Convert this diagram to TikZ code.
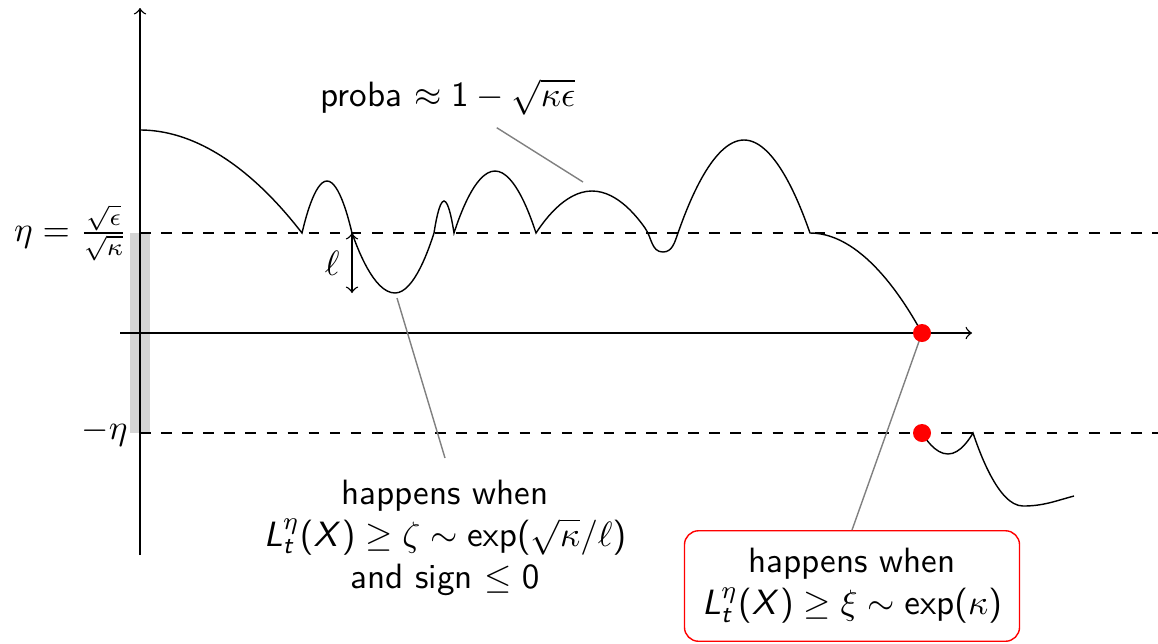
\documentclass[tikz,border=0pt]{standalone}
\renewcommand{\familydefault}{\sfdefault}
% maths in sans, as on the slides
\SetSymbolFont{operators}{normal}{OT1}{cmss}{m}{n}
\DeclareSymbolFont{sfit}{OT1}{cmss}{m}{sl}
\DeclareMathSymbol{L}{\mathalpha}{sfit}{`L}
\DeclareMathSymbol{X}{\mathalpha}{sfit}{`X}
\DeclareMathSymbol{t}{\mathalpha}{sfit}{`t}
\tikzset{
  pointer/.style={gray},
  hitdot/.style={fill=red},
  band/.style={fill=black!17}
}
\begin{document}
\begin{tikzpicture}
  \useasboundingbox (-1.40,-3.10) rectangle (10.18,3.33);
  % la bande autour de 0, puis les axes
  \fill[band] (-0.1,-1) rectangle (0.1,1);
  \draw[->] (-0.2,0) -- (8.32,0);
  \draw[->] (0,-2.22) -- (0,3.25);
  \draw[dashed] (0,1) -- (10.18,1);
  \draw[dashed] (0,-1) -- (10.18,-1);
  \node[left] (eta) at (0,1) {$\eta=\frac{\sqrt{\epsilon}}{\sqrt{\kappa}}$};
  \node[left] (meta) at (0,-1) {$-\eta$};
  % la trajectoire, au-dessus de eta
  \draw (0,2.03) parabola (1.62,1)
    parabola bend (1.87,1.52) (2.12,1) coordinate (cross)
    parabola bend (2.55,0.40) (2.94,1)
    parabola bend (3.04,1.32) (3.14,1)
    parabola bend (3.55,1.62) (3.96,1)
    parabola bend (4.52,1.42) (5.05,1.05)
    to[out=-54,in=180] (5.23,0.81)
    to[out=0,in=-110] (5.38,1)
    parabola bend (6.04,1.93) (6.70,1)
    parabola bend (6.70,1) (7.82,0) coordinate (hit);
  \coordinate (bottom) at (2.55,0.40);
  % et apres le saut, sous -eta
  \draw (7.82,-1) coordinate (hit2)
    parabola bend (8.08,-1.21) (8.33,-1)
    parabola[bend at end] (8.83,-1.73)
    to[out=0,in=-165] (9.34,-1.63);
  \draw[<->] (cross) -- node[left] (ell) {$\ell$} (cross |- bottom);
  % les commentaires
  \node (proba) at (3.08,2.36) {proba $\approx 1-\sqrt{\kappa\epsilon}$};
  \coordinate (hump) at (4.43,1.51);
  \draw[pointer] (proba) -- (hump);
  \node[align=center, anchor=north, inner sep=6pt] (sign) at (3.05,-1.25)
    {happens when\\ $L_t^\eta(X)\ge\zeta\sim\exp(\sqrt{\kappa}/\ell)$\\ and sign $\le 0$};
  \coordinate (dip) at (2.57,0.35);
  \draw[pointer] (sign.north) -- (dip);
  \node[draw=red, rounded corners, align=center, inner sep=5pt] (exit) at (7.12,-2.53)
    {happens when\\ $L_t^\eta(X)\ge\xi\sim\exp(\kappa)$};
  \draw[pointer] (exit.north) -- (hit);
  \fill[hitdot] (hit) circle (0.09);
  \fill[hitdot] (hit2) circle (0.09);
\end{tikzpicture}
\end{document}
